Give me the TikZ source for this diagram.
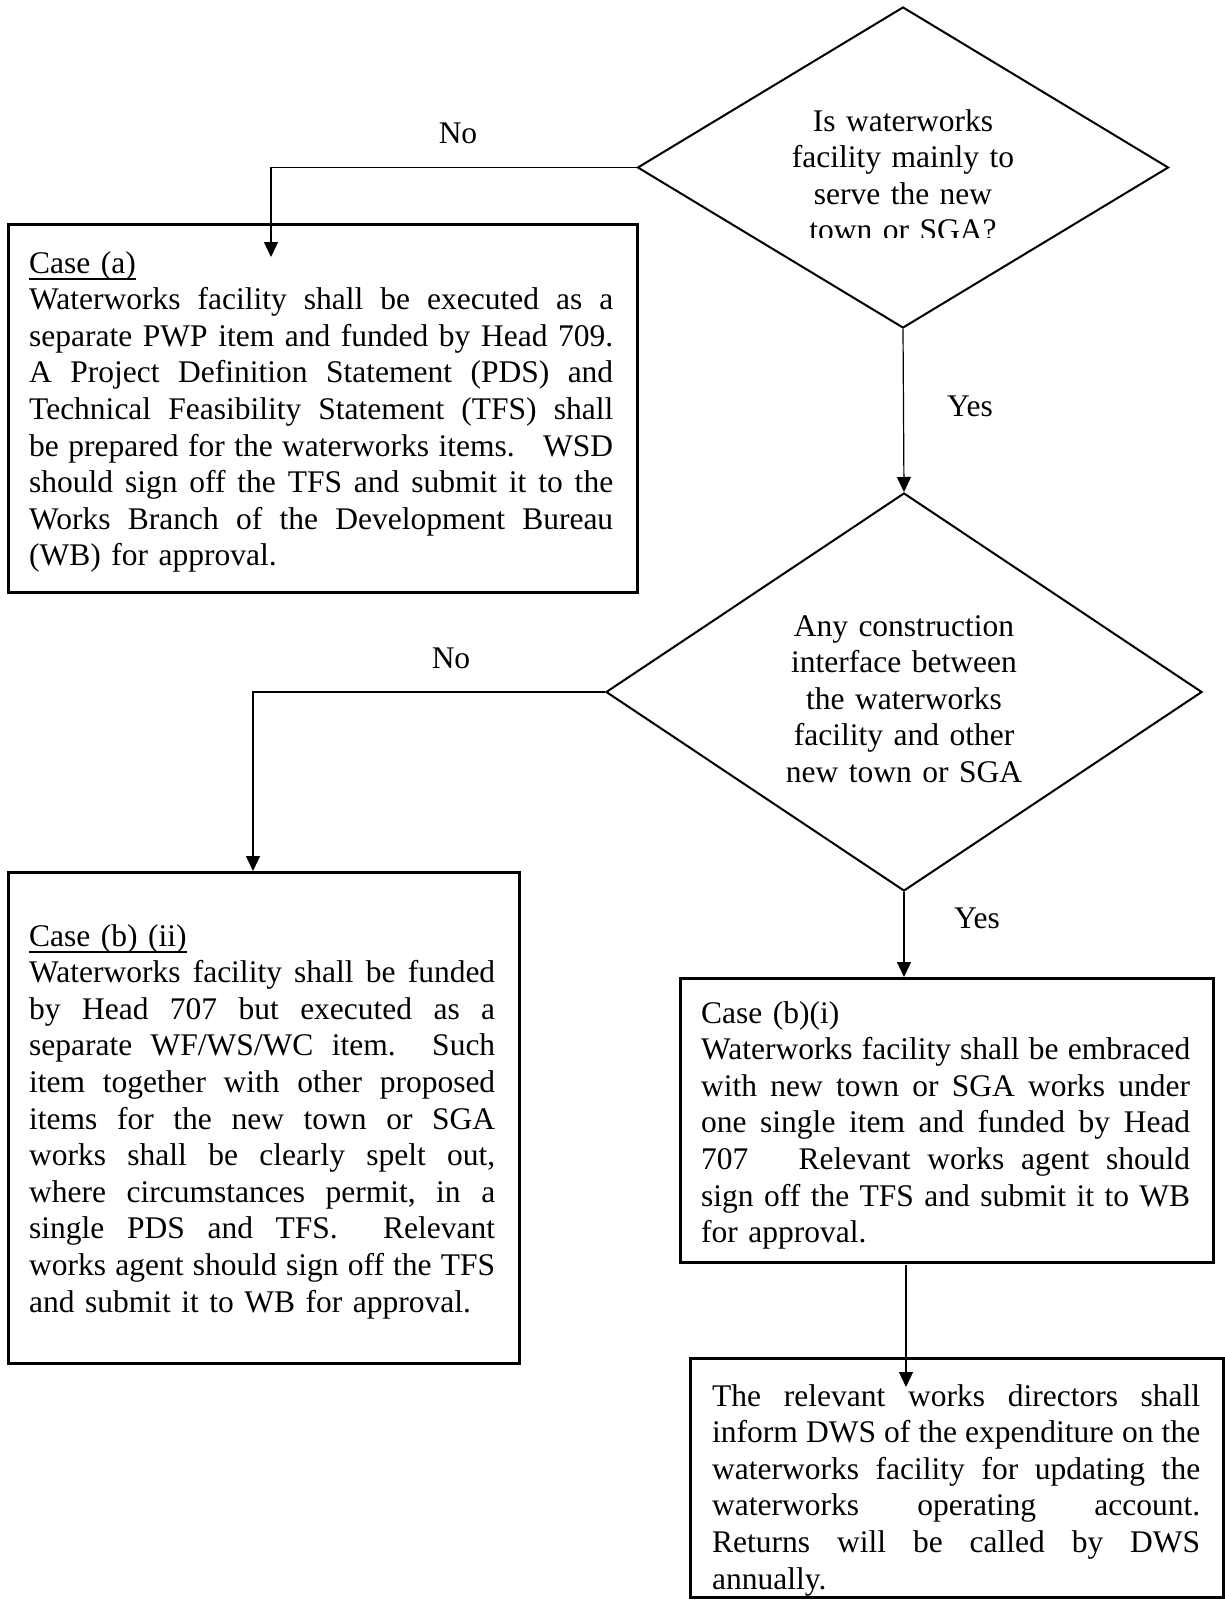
\documentclass[tikz,border=0pt]{standalone}
\usepackage{fontspec}
\setmainfont{Liberation Serif}
\usetikzlibrary{shapes.geometric,arrows.meta}
\newcommand\jline[1]{\leavevmode\hbox to \hsize{\spaceskip=0.25em plus 1fil\relax #1}}
\newcommand\uln[1]{\leavevmode\setbox0\hbox{#1}\rlap{\rule[-6.5pt]{\wd0}{1.5pt}}\box0}
\frenchspacing
\begin{document}
\begin{tikzpicture}[x=1pt,y=-1pt,
  boxstyle/.style={draw, line width=2.6pt, inner sep=0pt, anchor=north west},
  txt/.style={font=\fontsize{31.5}{36.6}\selectfont, inner sep=0pt, anchor=base west, align=left},
  dtext/.style={font=\fontsize{31.5}{36.6}\selectfont, inner sep=0pt, anchor=base, align=center, text width=420pt},
  lbl/.style={font=\fontsize{31.5}{36.6}\selectfont, inner sep=0pt, anchor=base},
  dia/.style={diamond, draw, line width=2pt, inner sep=0pt},
  conn/.style={line width=1.2pt, -{Triangle[length=15pt,width=14pt]}},
]
\fill[white] (0,0) rectangle (1224,1609);
\useasboundingbox (0,0) rectangle (1224,1609);

% decisions
\node[dia, minimum width=531pt, minimum height=321pt] (d1) at (903,167.5) {};
\node[dia, minimum width=596pt, minimum height=398pt] (d2) at (904,692) {};

\begin{scope}
\clip (600,0) rectangle (1200,237);
\node[dtext] (t1) at (903,131) {Is waterworks\\facility mainly to\\serve the new\\town or SGA?};
\end{scope}
\node[dtext] (t2) at (904,636) {Any construction\\interface between\\the waterworks\\facility and other\\new town or SGA};

% boxes
\node[boxstyle, minimum width=629pt, minimum height=368pt] (boxa) at (7,223) {};
\node[boxstyle, minimum width=511pt, minimum height=491pt] (bii) at (7,871) {};
\node[boxstyle, minimum width=533pt, minimum height=284pt] (bi) at (679,977) {};
\node[boxstyle, minimum width=533pt, minimum height=239pt] (fin) at (689,1357) {};

% box texts
\node[txt, text width=584pt] (ta) at (29,273) {\uln{Case (a)}\\
\jline{Waterworks facility shall be executed as a}\\
\jline{separate PWP item and funded by Head 709.}\\
\jline{A Project Definition Statement (PDS) and}\\
\jline{Technical Feasibility Statement (TFS) shall}\\
\jline{be prepared for the waterworks items.\ \ \ WSD}\\
\jline{should sign off the TFS and submit it to the}\\
\jline{Works Branch of the Development Bureau}\\
(WB) for approval.};

\node[txt, text width=466pt] (tbii) at (29,946) {\uln{Case (b) (ii)}\\
\jline{Waterworks facility shall be funded}\\
\jline{by Head 707 but executed as a}\\
\jline{separate WF/WS/WC item.\ \ Such}\\
\jline{item together with other proposed}\\
\jline{items for the new town or SGA}\\
\jline{works shall be clearly spelt out,}\\
\jline{where circumstances permit, in a}\\
\jline{single PDS and TFS.\ \ Relevant}\\
\jline{works agent should sign off the TFS}\\
and submit it to WB for approval.};

\node[txt, text width=489pt] (tbi) at (701,1023) {Case (b)(i)\\
\jline{Waterworks facility shall be embraced}\\
\jline{with new town or SGA works under}\\
\jline{one single item and funded by Head}\\
\jline{707\ \ \ Relevant works agent should}\\
\jline{sign off the TFS and submit it to WB}\\
for approval.};

\node[txt, text width=488pt] (tfin) at (712,1406) {\jline{The relevant works directors shall}\\
\jline{inform DWS of the expenditure on the}\\
\jline{waterworks facility for updating the}\\
\jline{waterworks operating account.}\\
\jline{Returns will be called by DWS}\\
annually.};

% labels
\node[lbl] (no1) at (458,143) {No};
\node[lbl] (yes1) at (970,416) {Yes};
\node[lbl] (no2) at (451,668) {No};
\node[lbl] (yes2) at (977,928) {Yes};

% connectors
\coordinate (tipa) at (271,257);
\coordinate (tipb) at (253,871);
\coordinate (s3) at (906,1265);
\coordinate (tip3) at (906,1387);
\draw[conn] (d1.west) -| (tipa);
\draw[conn] (d1.south) -- (d2.north);
\draw[conn] (d2.west) -| (tipb);
\draw[conn] (d2.south) -- (d2.south |- bi.north);
\draw[conn] (s3) -- (tip3);
\end{tikzpicture}
\end{document}
